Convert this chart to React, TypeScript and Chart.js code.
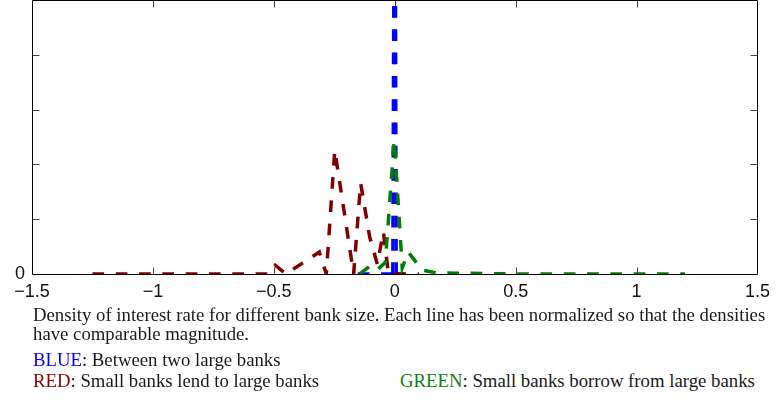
import React, { useEffect, useRef } from "react";
import { Chart, registerables } from "chart.js";

Chart.register(...registerables);

// ---- data ----
const xTickValues = [-1.5, -1, -0.5, 0, 0.5, 1, 1.5];
const xTickLabels = ["\u22121.5", "\u22121", "\u22120.5", "0", "0.5", "1", "1.5"];
const yTickValues = [0, 1, 2, 3, 4, 5];
const yTickLabels = ["0", "", "", "", "", ""];

// BLUE: between two large banks
const blueX = [-0.153, -0.1, -0.05, -0.008, 0, 0.006, 0.04];
const blueY = [0, 0, 0, 0, 10, 0, 0];

// RED: small banks lend to large banks
const redX = [-1.25, -1.0, -0.75, -0.52, -0.494, -0.45, -0.312, -0.283, -0.248, -0.17, -0.141, -0.104, -0.072, -0.047, -0.026, 0.1];
const redY = [0, 0, 0, 0, 0.16, 0, 0.4, 0, 2.26, 0, 1.66, 0.68, 0.18, 0.77, 0, 0];

// GREEN: small banks borrow from large banks
const greenX = [-0.145, -0.104, -0.076, -0.039, -0.002, 0.031, 0.056, 0.113, 0.175, 0.5, 0.8, 1.2];
const greenY = [0, 0.14, 0.06, 0.21, 2.45, 0.11, 0.4, 0.07, 0.02, 0, 0, 0];

const DASH = 11.7;
const GAP = 11.6;
const PERIOD = DASH + GAP;

const toPoints = (xs: number[], ys: number[]) => xs.map((x, i) => ({ x, y: ys[i] }));

const boxPlugin = {
  id: "matlabBox",
  beforeDatasetsDraw(chart: any) {
    const { ctx, chartArea: a, scales } = chart;
    const xs = scales.x;
    const ys = scales.y;
    const L = Math.floor(a.left) + 0.5;
    const R = Math.floor(a.right) + 0.5;
    const T = Math.floor(a.top) + 0.5;
    const B = Math.floor(a.bottom) + 0.5;
    const tl = 7;
    ctx.save();
    ctx.lineWidth = 1;
    ctx.strokeStyle = "#404040";
    ctx.beginPath();
    xTickValues.forEach((v) => {
      if (v <= -1.5 || v >= 1.5) return;
      const px = Math.round(xs.getPixelForValue(v)) + 0.5;
      ctx.moveTo(px, B);
      ctx.lineTo(px, B - tl);
      ctx.moveTo(px, T);
      ctx.lineTo(px, T + tl);
    });
    yTickValues.forEach((v) => {
      if (v <= 0 || v >= 5) return;
      const py = Math.round(ys.getPixelForValue(v)) + 0.5;
      ctx.moveTo(L, py);
      ctx.lineTo(L + tl, py);
      ctx.moveTo(R, py);
      ctx.lineTo(R - tl, py);
    });
    ctx.stroke();
    ctx.strokeStyle = "#000";
    ctx.beginPath();
    ctx.rect(L, T, R - L, B - T);
    ctx.stroke();
    ctx.restore();
  },
};

function ChartCanvas() {
  const ref = useRef<HTMLCanvasElement | null>(null);
  useEffect(() => {
    if (!ref.current) return;
    const common = {
      showLine: true,
      pointRadius: 0,
      borderWidth: 3.5,
      borderDash: [DASH, GAP],
      borderCapStyle: "butt" as const,
      tension: 0,
      fill: false,
    };
    const chart = new Chart(ref.current, {
      type: "scatter",
      data: {
        datasets: [
          { ...common, label: "GREEN", data: toPoints(greenX, greenY), borderColor: "#008000" },
          { ...common, label: "RED", data: toPoints(redX, redY), borderColor: "#800000" },
          {
            ...common,
            label: "BLUE",
            data: toPoints(blueX, blueY),
            borderColor: "#0000ff",
            segment: {
              borderDashOffset: (c: any) => {
                const { p0, p1 } = c;
                if (p1.y < p0.y - 50) return PERIOD;
                if (p0.y < p1.y - 50) {
                  const len = Math.hypot(p1.x - p0.x, p1.y - p0.y);
                  return (((DASH - len) % PERIOD) + PERIOD) % PERIOD;
                }
                return undefined;
              },
            },
          },
        ],
      },
      options: {
        responsive: false,
        animation: false,
        devicePixelRatio: 1,
        layout: { padding: { left: 0, right: 15, top: 0, bottom: 0 } },
        plugins: { legend: { display: false }, tooltip: { enabled: false } },
        scales: {
          x: {
            type: "linear",
            min: -1.5,
            max: 1.5,
            afterBuildTicks: (s: any) => {
              s.ticks = xTickValues.map((v) => ({ value: v }));
            },
            afterFit: (s: any) => {
              s.height = 31;
            },
            grid: { display: false, drawTicks: false },
            border: { display: false },
            ticks: {
              padding: 7,
              color: "#111",
              font: { family: "'Liberation Sans', Arial, sans-serif", size: 18 },
              maxRotation: 0,
              autoSkip: false,
              callback: (_v: any, i: number) => xTickLabels[i],
            },
          },
          y: {
            type: "linear",
            min: 0,
            max: 5,
            afterBuildTicks: (s: any) => {
              s.ticks = yTickValues.map((v) => ({ value: v }));
            },
            afterFit: (s: any) => {
              s.width = 32;
              s.paddingTop = 0;
              s.paddingBottom = 0;
            },
            grid: { display: false, drawTicks: false },
            border: { display: false },
            ticks: {
              padding: 7,
              color: "#111",
              font: { family: "'Liberation Sans', Arial, sans-serif", size: 18 },
              autoSkip: false,
              callback: (_v: any, i: number) => yTickLabels[i],
            },
          },
        },
      },
      plugins: [boxPlugin],
    });
    return () => chart.destroy();
  }, []);
  return <canvas ref={ref} width={777} height={305} style={{ position: "absolute", left: 0, top: 0, width: 777, height: 305 }} />;
}

const textStyle: React.CSSProperties = {
  position: "absolute",
  left: 33,
  whiteSpace: "nowrap",
  fontFamily: '"Liberation Serif", "Times New Roman", serif',
  fontSize: 18.75,
  lineHeight: "18.75px",
  color: "#1a1a1a",
};

export default function App() {
  return (
    <div style={{ position: "absolute", left: 0, top: 0, width: 777, height: 400, background: "#fff", overflow: "hidden" }}>
      <ChartCanvas />
      <div style={{ ...textStyle, top: 305.5 }}>
        Density of interest rate for different bank size. Each line has been normalized so that the densities
      </div>
      <div style={{ ...textStyle, top: 325 }}>have comparable magnitude.</div>
      <div style={{ ...textStyle, top: 351 }}>
        <span style={{ color: "#0000ff" }}>BLUE</span>: Between two large banks
      </div>
      <div style={{ ...textStyle, top: 372 }}>
        <span style={{ color: "#8b0000" }}>RED</span>: Small banks lend to large banks
      </div>
      <div style={{ ...textStyle, top: 372, left: 400 }}>
        <span style={{ color: "#128012" }}>GREEN</span>: Small banks borrow from large banks
      </div>
    </div>
  );
}
